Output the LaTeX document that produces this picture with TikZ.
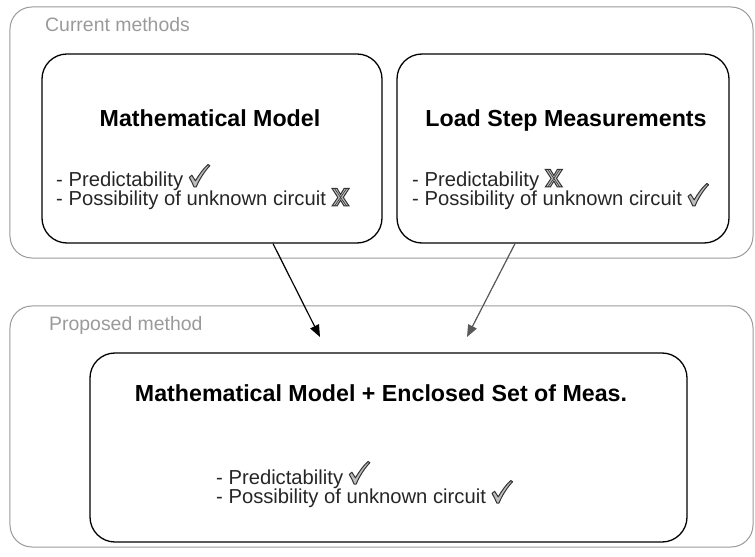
\documentclass[tikz,border=0pt]{standalone}
\usepackage{fontspec}
\setmainfont{Liberation Sans}
\usetikzlibrary{arrows.meta}

\definecolor{framegray}{HTML}{9A9A9A}
\definecolor{bodytext}{HTML}{262626}
\definecolor{markfill}{HTML}{BDBDBD}
\definecolor{markline}{HTML}{333333}

% outlined tick and cross, sitting on the text baseline
\newcommand{\yesmark}{\smash{\tikz[x=1bp,y=1bp,baseline=0pt]{
  \filldraw[fill=markfill,draw=markline,line width=1bp,line join=round]
    (0.5,9.5) -- (3,11.8) -- (6.6,6.2)
    .. controls (10.5,12.5) and (14.5,18.5) .. (19.3,22.5)
    -- (21,21.3)
    .. controls (15.5,15.5) and (10.5,7.5) .. (7.4,0)
    -- (5.2,0)
    .. controls (4,3.2) and (2.4,6.3) .. cycle;}}}
\newcommand{\nomark}{\smash{\tikz[x=1bp,y=1bp,baseline=0pt]{
  \filldraw[fill=markfill,draw=markline,line width=1bp,line join=miter]
    (0,17.5) -- (5,17.5) -- (8.5,11.5) -- (12,17.5) -- (17,17.5)
    -- (11.2,8.6) -- (17,0) -- (12,0) -- (8.5,5.8) -- (5,0) -- (0,0)
    -- (5.8,8.6) -- cycle;
  \draw[markline,line width=0.6bp] (2.5,17.5) -- (8.5,8.6) -- (2.5,0)
    (14.5,17.5) -- (8.5,8.6) -- (14.5,0);}}}

\begin{document}
\begin{tikzpicture}[x=1bp,y=-1bp,
  groupframe/.style={draw=framegray,line width=1bp,rounded corners=22bp,
    inner sep=0pt},
  methodbox/.style={draw=black,line width=1.3bp,rounded corners=25bp,
    inner sep=0pt},
  grouplabel/.style={anchor=base west,inner sep=0pt,text=framegray,
    font=\fontsize{19.5}{22}\selectfont},
  boxtitle/.style={anchor=base,inner sep=0pt,
    font=\fontsize{23.3}{26}\selectfont\bfseries},
  prosline/.style={anchor=base west,inner sep=0pt,text=bodytext,
    font=\fontsize{20.3}{20}\selectfont},
  linkarrow/.style={-{Triangle[length=12bp,width=9.5bp]},line width=1.2bp}]

\useasboundingbox (0,0) rectangle (755,557);

% group frames
\node[groupframe,minimum width=743bp,minimum height=251bp] (current) at (381.5,132.5) {};
\node[groupframe,minimum width=743bp,minimum height=241bp] (proposed) at (381.5,426.5) {};
\node[grouplabel] (currentlbl) at (45,32) {Current methods};
\node[grouplabel] (proposedlbl) at (49,330) {Proposed method};

% method boxes
\node[methodbox,minimum width=340bp,minimum height=189bp] (mm) at (212,148.5) {};
\node[methodbox,minimum width=332bp,minimum height=189bp] (ls) at (563,148.5) {};
\node[methodbox,minimum width=597bp,minimum height=189bp] (mix) at (388.5,447.5) {};

% box titles
\node[boxtitle] (mmtitle) at (210,127) {Mathematical Model};
\node[boxtitle] (lstitle) at (566,127) {Load Step Measurements};
\node[boxtitle] (mixtitle) at (381,401) {Mathematical Model + Enclosed Set of Meas.};

% pros and cons, one line each
\node[prosline] (mmpred) at (56,187) {- Predictability \yesmark};
\node[prosline] (mmposs) at (56,206) {- Possibility of unknown circuit \nomark};
\node[prosline] (lspred) at (412,187) {- Predictability \nomark};
\node[prosline] (lsposs) at (412,206) {- Possibility of unknown circuit \yesmark};
\node[prosline] (mixpred) at (216,484) {- Predictability \yesmark};
\node[prosline] (mixposs) at (216,503) {- Possibility of unknown circuit \yesmark};

% links from the current methods to the proposed one
\coordinate (tipmm) at (320,337);
\coordinate (tipls) at (467,337);
\draw[linkarrow,black] ([xshift=61bp]mm.south) -- (tipmm);
\draw[linkarrow,draw=black!65,fill=black] ([xshift=-48bp]ls.south) -- (tipls);
\end{tikzpicture}
\end{document}
